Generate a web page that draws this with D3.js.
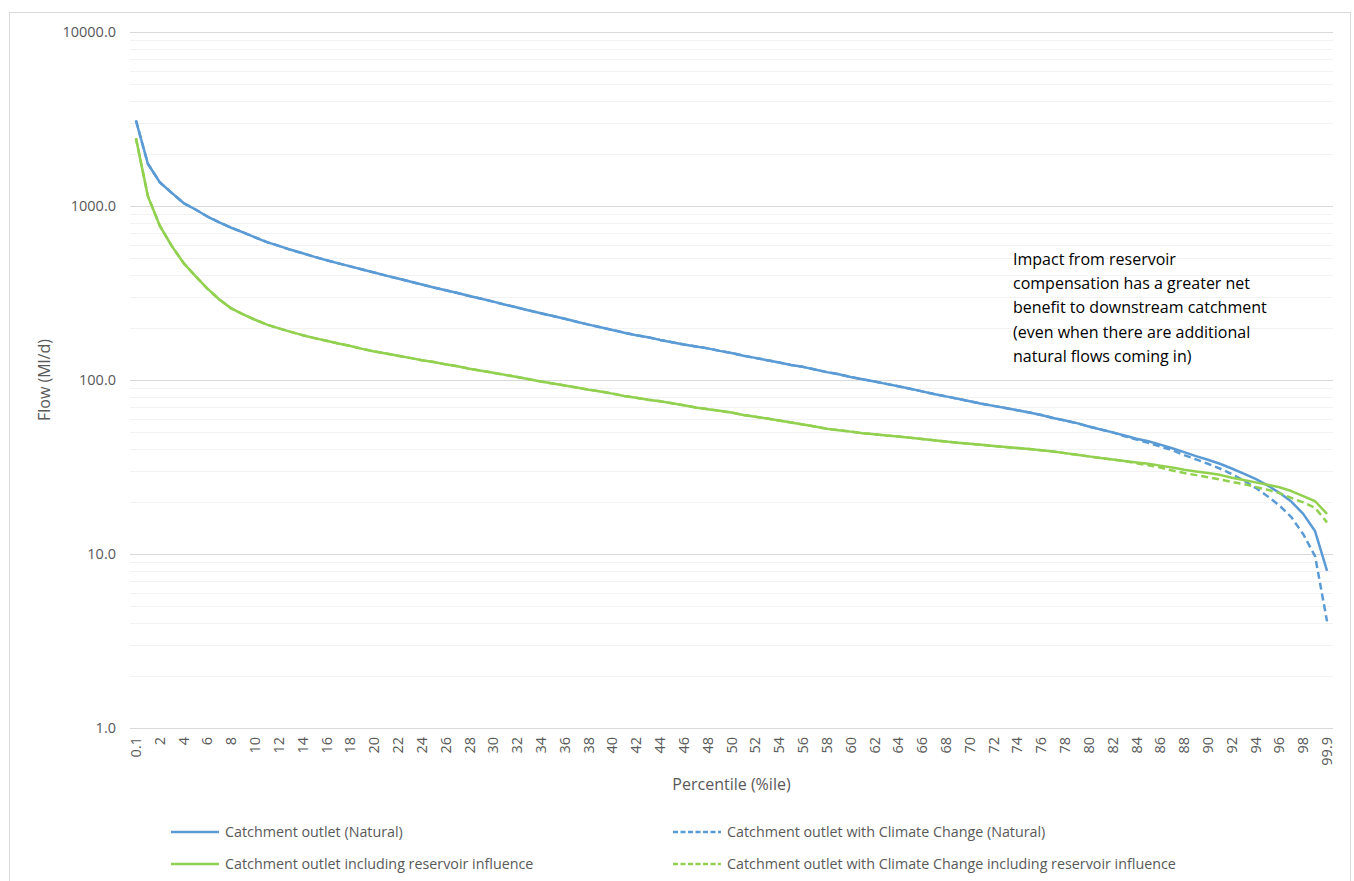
<!DOCTYPE html>
<html>
<head>
<meta charset="utf-8">
<script src="https://cdn.jsdelivr.net/npm/d3@7"></script>
<style>
  body { margin: 0; background: #fff; }
  text { font-family: "Open Sans", sans-serif; }
</style>
</head>
<body>
<div id="chart"></div>
<script>
// percentile categories (x axis)
const percentiles = ["0.1","1","2","3","4","5","6","7","8","9",
  "10","11","12","13","14","15","16","17","18","19",
  "20","21","22","23","24","25","26","27","28","29",
  "30","31","32","33","34","35","36","37","38","39",
  "40","41","42","43","44","45","46","47","48","49",
  "50","51","52","53","54","55","56","57","58","59",
  "60","61","62","63","64","65","66","67","68","69",
  "70","71","72","73","74","75","76","77","78","79",
  "80","81","82","83","84","85","86","87","88","89",
  "90","91","92","93","94","95","96","97","98","99","99.9"];

// labelled every other category
const xTickLabels = ["0.1","2","4","6","8","10","12","14","16","18","20","22","24","26","28","30",
  "32","34","36","38","40","42","44","46","48","50","52","54","56","58","60","62","64","66","68",
  "70","72","74","76","78","80","82","84","86","88","90","92","94","96","98","99.9"];

const yTickValues = [1, 10, 100, 1000, 10000];

// flow (Ml/d)
const naturalFlow = [3100,1750,1370,1190,1040,955,870,805,750,705,
  660,620,590,560,535,510,488,468,450,432,
  415,398,383,368,354,340,328,316,304,293,
  282,271,261,251,242,233,225,216,208,201,
  194,187,181,176,170,165,160,156,152,147,
  143,138,134,130,126,122,119,115,111,108,
  104,101,98,95,92,89,86,83,80.5,78,
  75.5,73,71,69,67,65,63,60.5,58.5,56.5,
  54,52,50,48,46,44.5,42.5,40.5,38.5,36.5,
  34.8,33,31,29,27,24.8,22.5,20,17,13.5,
  8.0];

const naturalClimateFlow = [3100,1750,1370,1190,1040,955,870,805,750,705,
  660,620,590,560,535,510,488,468,450,432,
  415,398,383,368,354,340,328,316,304,293,
  282,271,261,251,242,233,225,216,208,201,
  194,187,181,176,170,165,160,156,152,147,
  143,138,134,130,126,122,119,115,111,108,
  104,101,98,95,92,89,86,83,80.5,78,
  75.5,73,71,69,67,65,63,60.5,58.5,56.5,
  54,52,50,47.5,45.5,43.5,41.5,39.5,37,35,
  33,31,28.8,26.5,24,21.5,19,16.3,13,9.7,
  4.1];

const reservoirFlow = [2450,1140,770,590,470,395,335,290,258,238,
  222,208,198,189,181,174,168,162,157,151,
  146,142,138,134,130,127,123,120,116,113,
  110,107,104,101,98,95.5,93,90.5,88,86,
  83.5,81,79,77,75.5,73.5,71.5,69.5,68,66.5,
  65,63,61.5,60,58.5,57,55.5,54,52.5,51.5,
  50.5,49.5,48.8,48,47.4,46.6,45.8,45,44.3,43.6,
  43,42.4,41.8,41.2,40.6,40.1,39.5,38.8,38,37.2,
  36.4,35.6,34.9,34.2,33.6,33,32.2,31.4,30.5,29.8,
  29.2,28.5,27.4,26.6,25.8,25,24.2,23,21.5,20.1,
  17];

const reservoirClimateFlow = [2450,1140,770,590,470,395,335,290,258,238,
  222,208,198,189,181,174,168,162,157,151,
  146,142,138,134,130,127,123,120,116,113,
  110,107,104,101,98,95.5,93,90.5,88,86,
  83.5,81,79,77,75.5,73.5,71.5,69.5,68,66.5,
  65,63,61.5,60,58.5,57,55.5,54,52.5,51.5,
  50.5,49.5,48.8,48,47.4,46.6,45.8,45,44.3,43.6,
  43,42.4,41.8,41.2,40.6,40.1,39.5,38.8,38,37.2,
  36.4,35.6,34.9,34.2,33.2,32.4,31.4,30.2,29.2,28.4,
  27.6,26.8,26,25.2,24.3,23.4,22.4,21,19.8,18.4,
  15.2];

const seriesNames = ["Catchment outlet (Natural)",
  "Catchment outlet with Climate Change (Natural)",
  "Catchment outlet including reservoir influence",
  "Catchment outlet with Climate Change including reservoir influence"];

const noteLines = ["Impact from reservoir",
  "compensation has a greater net",
  "benefit to downstream catchment",
  "(even when there are additional",
  "natural flows coming in)"];

let width = 1354;
let height = 881;
let margin = { top: 32, right: 21, bottom: 153, left: 130 };
let plotW = width - margin.left - margin.right;
let plotH = height - margin.top - margin.bottom;

let blue = "#5b9bd5";
let green = "#92d050";

let series = [
  { name: seriesNames[0], values: naturalFlow, color: blue, dash: null },
  { name: seriesNames[1], values: naturalClimateFlow, color: blue, dash: "7,4" },
  { name: seriesNames[2], values: reservoirFlow, color: green, dash: null },
  { name: seriesNames[3], values: reservoirClimateFlow, color: green, dash: "7,4" }
];

let svg = d3.select("#chart").append("svg")
  .attr("width", width)
  .attr("height", height);

// chart frame
svg.append("rect")
  .attr("x", 9.5).attr("y", 12.5)
  .attr("width", 1341).attr("height", 880)
  .attr("fill", "none")
  .attr("stroke", "#d9d9d9");

let g = svg.append("g")
  .attr("transform", "translate(" + margin.left + "," + margin.top + ")");

let xScale = d3.scaleBand()
  .domain(percentiles)
  .range([0, plotW]);

let yScale = d3.scaleLog()
  .domain([1, 10000])
  .range([plotH, 0]);

// minor grid
g.append("g").selectAll("line")
  .data(yScale.ticks().filter(function (d) { return yTickValues.indexOf(d) < 0; }))
  .enter().append("line")
  .attr("x1", 0).attr("x2", plotW)
  .attr("y1", function (d) { return Math.round(yScale(d)) + 0.5; })
  .attr("y2", function (d) { return Math.round(yScale(d)) + 0.5; })
  .attr("stroke", "#f2f2f2");

// major grid
g.append("g").selectAll("line")
  .data(yTickValues)
  .enter().append("line")
  .attr("x1", 0).attr("x2", plotW)
  .attr("y1", function (d) { return Math.round(yScale(d)) + 0.5; })
  .attr("y2", function (d) { return Math.round(yScale(d)) + 0.5; })
  .attr("stroke", "#d9d9d9");

// y axis
let yAxis = d3.axisLeft(yScale)
  .tickValues(yTickValues)
  .tickFormat(d3.format(".1f"))
  .tickSize(0)
  .tickPadding(14);

let yAxisG = g.append("g").call(yAxis);
yAxisG.select(".domain").remove();
yAxisG.selectAll("text")
  .attr("fill", "#595959")
  .style("font-size", "14.5px");

// x axis
let xAxis = d3.axisBottom(xScale)
  .tickValues(xTickLabels)
  .tickSize(0);

let xAxisG = g.append("g")
  .attr("transform", "translate(0," + plotH + ")")
  .call(xAxis);
xAxisG.select(".domain").remove();
xAxisG.selectAll("text")
  .attr("fill", "#595959")
  .style("font-size", "14.5px")
  .attr("text-anchor", "end")
  .attr("transform", "rotate(-90)")
  .attr("x", -9)
  .attr("y", 0)
  .attr("dy", "0.35em");

// lines
let line = d3.line()
  .x(function (d, i) { return xScale(percentiles[i]) + xScale.bandwidth() / 2; })
  .y(function (d) { return yScale(d); });

g.append("g").selectAll("path")
  .data(series)
  .enter().append("path")
  .attr("d", function (d) { return line(d.values); })
  .attr("fill", "none")
  .attr("stroke", function (d) { return d.color; })
  .attr("stroke-width", 2.5)
  .attr("stroke-linejoin", "round")
  .attr("stroke-dasharray", function (d) { return d.dash; });

// axis titles
svg.append("text")
  .attr("x", margin.left + plotW / 2)
  .attr("y", 790)
  .attr("text-anchor", "middle")
  .attr("fill", "#595959")
  .style("font-size", "16px")
  .text("Percentile (%ile)");

svg.append("text")
  .attr("transform", "translate(50," + (margin.top + plotH / 2) + ") rotate(-90)")
  .attr("text-anchor", "middle")
  .attr("fill", "#595959")
  .style("font-size", "16px")
  .text("Flow (Ml/d)");

// annotation
svg.append("text")
  .attr("x", 1013)
  .attr("y", 265)
  .attr("fill", "#000")
  .style("font-size", "16px")
  .selectAll("tspan")
  .data(noteLines)
  .enter().append("tspan")
  .attr("x", 1013)
  .attr("dy", function (d, i) { return i === 0 ? 0 : 24.2; })
  .text(function (d) { return d; });

// legend
let legendPos = [[171, 832], [673, 832], [171, 864], [673, 864]];
let legend = svg.append("g").selectAll("g")
  .data(series)
  .enter().append("g")
  .attr("transform", function (d, i) { return "translate(" + legendPos[i][0] + "," + legendPos[i][1] + ")"; });

legend.append("line")
  .attr("x1", 0).attr("x2", 48)
  .attr("stroke", function (d) { return d.color; })
  .attr("stroke-width", 2.5)
  .attr("stroke-dasharray", function (d) { return d.dash ? "5,2.5" : null; });

legend.append("text")
  .attr("x", 54)
  .attr("dy", "0.35em")
  .attr("fill", "#595959")
  .style("font-size", "14.3px")
  .text(function (d) { return d.name; });
</script>
</body>
</html>
